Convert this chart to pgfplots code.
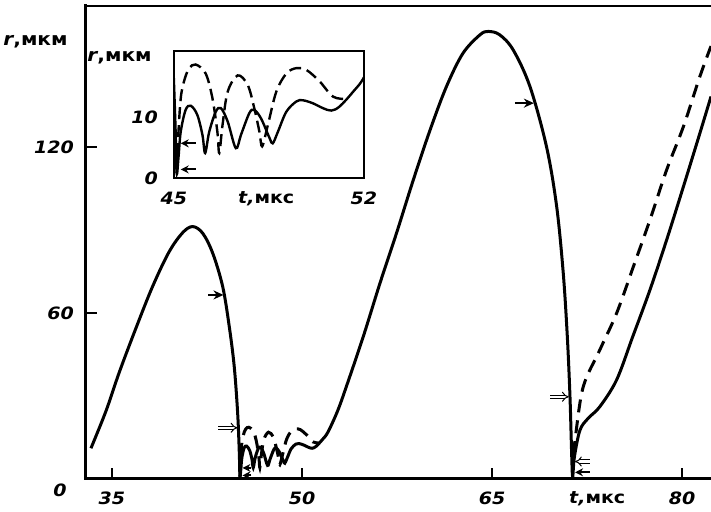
\documentclass[border=0pt]{standalone}
\usepackage{pgfplots}
\pgfplotsset{compat=1.18}
\usepackage{pgfplotstable}
\usepackage{fontspec}
\setmainfont[FakeStretch=1.12]{DejaVu Sans}
\usetikzlibrary{arrows.meta}

% radius r (mkm) vs time t (mks)
\pgfplotstableread{
t r
33.34 11.1
34.53 24.6
35.58 38.6
36.90 54.6
38.20 69.5
39.50 82.0
40.58 89.0
41.37 91.2
42.16 88.8
42.95 81.6
43.74 69.5
44.26 55.0
44.65 40.6
44.92 23.8
45.05 9.4
45.10 0.8
45.17 3.5
45.25 7.6
45.43 11.2
45.62 11.9
45.86 10.4
46.05 7.1
46.15 4.1
46.30 7.6
46.54 10.9
46.73 11.5
46.98 9.3
47.28 4.9
47.47 7.1
47.78 10.7
47.96 11.2
48.21 9.8
48.52 6.6
48.64 5.7
48.83 7.6
49.14 10.9
49.51 12.6
49.75 12.8
50.12 12.3
50.49 11.5
50.80 11.1
51.11 11.8
51.60 14.2
52.04 16.9
52.80 24.5
53.50 33.4
54.83 51.4
56.15 70.7
57.47 89.0
58.78 108.0
60.10 126.0
61.40 141.8
62.70 153.8
64.05 160.5
64.70 161.7
65.60 160.5
66.67 155.0
67.99 141.8
69.30 120.0
70.10 98.4
70.62 74.3
70.94 51.4
71.15 29.7
71.28 9.3
71.36 0.8
71.50 8.0
71.94 17.7
72.60 22.0
73.50 26.1
74.83 35.8
76.10 51.4
77.46 68.3
78.78 86.4
80.10 105.6
81.40 124.9
82.28 138.2
}\solid

\pgfplotstableread{
t r
45.10 0.8
45.16 7.0
45.25 13.1
45.37 15.9
45.55 18.0
45.80 18.7
46.17 17.2
46.42 13.1
46.60 7.6
46.67 4.1
46.79 8.7
46.98 14.2
47.35 16.9
47.72 15.3
47.96 11.5
48.15 7.6
48.25 5.2
48.46 8.7
48.77 14.2
49.14 17.2
49.51 18.1
49.88 17.8
50.37 15.9
50.86 13.4
51.35 13.0
}\dashA

\pgfplotstableread{
t r
71.45 9.0
71.60 16.0
72.20 33.4
73.50 46.6
74.83 59.9
76.15 76.7
77.46 93.6
78.78 111.7
80.10 127.3
81.40 145.4
82.28 156.4
}\dashB

\newcommand{\lab}{\fontsize{8.5}{10}\selectfont\bfseries}
\newcommand{\ylab}{\fontsize{9}{11}\selectfont\bfseries}
\newcommand{\tlab}{\textit{t},\textup{мкс}}

\begin{document}
\begin{tikzpicture}
\useasboundingbox (-43pt,-16.5pt) rectangle (312.5pt,239.5pt);
\begin{axis}[
    at={(0,0)}, anchor=south west,
    scale only axis, width=312.5pt, height=236.5pt,
    xmin=32.95, xmax=82.28, ymin=0, ymax=170.9,
    axis line style={draw=none},
    clip mode=individual,
    tick align=inside, major tick length=5.5pt,
    tick style={line width=1pt, black},
    xtick={35,50,65,80}, xtick pos=bottom,
    ytick={60,120}, ytick pos=left,
    extra x ticks={73.3},
    extra x tick labels={\tlab},
    extra x tick style={major tick length=0pt},
    /pgf/number format/assume math mode=true,
    tick label style={font=\lab\itshape},
    xticklabel style={yshift=-3pt},
    yticklabel style={xshift=-2.5pt},
]
    \draw[line width=1.5pt, line cap=rect] (rel axis cs:0,1) -- (rel axis cs:0,0) -- (rel axis cs:1,0);
    \draw[line width=1.3pt] (rel axis cs:0,1) -- (rel axis cs:1,1);

    \addplot[black, line width=1.5pt, smooth, tension=0.55] table {\solid};
    \addplot[black, line width=1.5pt, smooth, tension=0.55, dash pattern=on 6.5pt off 4pt] table {\dashA};
    \addplot[black, line width=1.5pt, smooth, tension=0.55, dash pattern=on 6.5pt off 4pt] table {\dashB};

    % arrows
    \draw[line width=1.2pt, -{Stealth[length=5pt,width=4.5pt]}] (axis cs:42.6,66.5) -- (axis cs:43.8,66.5);
    \draw[line width=0.5pt, double, double distance=1.2pt, -{Implies}] (axis cs:43.4,18.5) -- (axis cs:44.9,18.5);
    \draw[line width=1pt, -{Stealth[length=4pt,width=4pt]}] (axis cs:46.0,4.0) -- (axis cs:45.3,4.0);
    \draw[line width=1pt, -{Stealth[length=4pt,width=4pt]}] (axis cs:46.0,1.3) -- (axis cs:45.3,1.3);
    \draw[line width=1.2pt, -{Stealth[length=5pt,width=4.5pt]}] (axis cs:66.8,135.8) -- (axis cs:68.3,135.8);
    \draw[line width=0.5pt, double, double distance=1.2pt, -{Implies}] (axis cs:69.6,29.7) -- (axis cs:71.05,29.7);
    \draw[line width=0.5pt, double, double distance=1.2pt, -{Implies}] (axis cs:72.7,6.3) -- (axis cs:71.55,6.3);
    \draw[line width=1pt, -{Stealth[length=4pt,width=4pt]}] (axis cs:72.7,2.4) -- (axis cs:71.55,2.4);

    \node[font=\ylab, anchor=west, inner sep=0pt] at (axis cs:26.4,157.9) {\textit{r},мкм};
    \node[font=\lab\itshape] at (axis cs:30.9,-4.0) {0};
    \coordinate (ins) at (axis cs:39.89,108.78);
\end{axis}

\begin{axis}[
    at={(ins)}, anchor=south west,
    scale only axis, width=95pt, height=63.7pt,
    xmin=45, xmax=52, ymin=0, ymax=21,
    axis line style={line width=1pt},
    clip mode=individual,
    major tick length=0pt,
    xtick={45,52}, ytick={0,10},
    extra x ticks={48.4},
    extra x tick labels={\tlab},
    /pgf/number format/assume math mode=true,
    tick label style={font=\lab\itshape},
    xticklabel style={yshift=-3.4pt},
    yticklabel style={xshift=-4.5pt},
]
    \addplot[black, line width=1.2pt, smooth, tension=0.55] table {\solid};
    \addplot[black, line width=1.2pt, smooth, tension=0.55, dash pattern=on 6pt off 3pt] table {\dashA};
    \draw[line width=1pt, -{Stealth[length=4pt,width=4pt]}] (axis cs:45.8,5.7) -- (axis cs:45.25,5.7);
    \draw[line width=1pt, -{Stealth[length=4pt,width=4pt]}] (axis cs:45.8,1.4) -- (axis cs:45.25,1.4);
    \node[font=\ylab, anchor=west, inner sep=0pt] at (axis cs:41.8,19.8) {\textit{r},мкм};
\end{axis}
\end{tikzpicture}
\end{document}
